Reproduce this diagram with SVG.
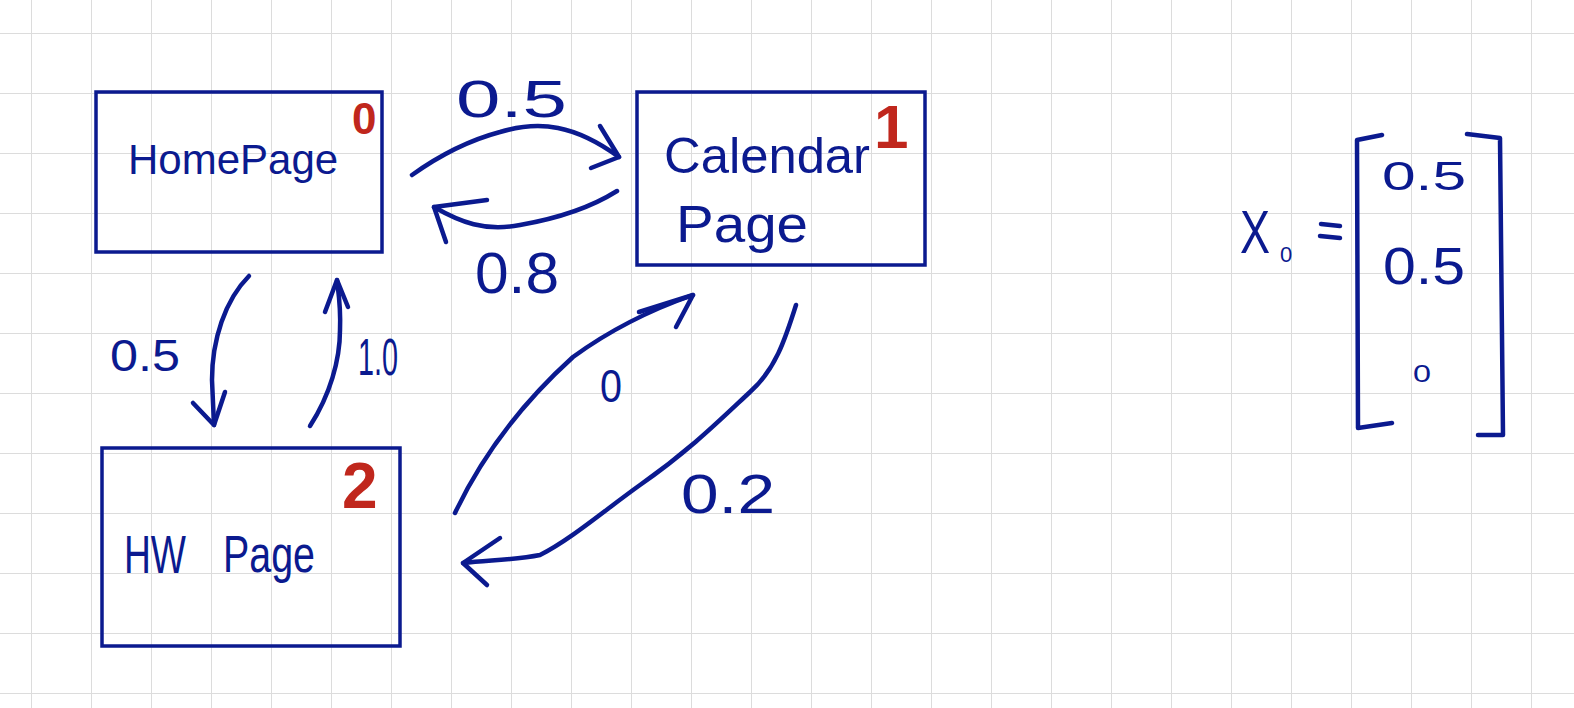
<svg xmlns="http://www.w3.org/2000/svg" width="1574" height="708" viewBox="0 0 1574 708">
  <style>
    .box { fill: none; stroke: #0b1a8f; stroke-width: 3.5; }
    .ink { fill: none; stroke: #0b1a8f; stroke-width: 4.5; stroke-linecap: round; stroke-linejoin: round; }
    .lbl { fill: #0b1a8f; font-family: "Liberation Sans", "DejaVu Sans", sans-serif; }
    .idx { fill: #c0271d; font-family: "Liberation Sans", "DejaVu Sans", sans-serif; font-weight: bold; }
  </style>
  <defs>
    <pattern id="grid" patternUnits="userSpaceOnUse" x="31" y="33" width="60" height="60">
      <path d="M0,0 H60 M0,0 V60" fill="none" stroke="#dcdcdc" stroke-width="2"/>
    </pattern>
  </defs>

  <!-- graph paper -->
  <rect width="1574" height="708" fill="#ffffff"/>
  <rect width="1574" height="708" fill="url(#grid)"/>

  <!-- state 0 -->
  <g id="node-0">
    <rect class="box" x="96" y="92" width="286" height="160"/>
    <text class="lbl" x="128" y="174" font-size="42">HomePage</text>
    <text class="idx" x="352" y="134" font-size="44">0</text>
  </g>

  <!-- state 1 -->
  <g id="node-1">
    <rect class="box" x="637" y="92" width="288" height="173"/>
    <text class="lbl" x="664" y="173" font-size="50" textLength="206" lengthAdjust="spacingAndGlyphs">Calendar</text>
    <text class="lbl" x="676" y="242" font-size="52" textLength="132" lengthAdjust="spacingAndGlyphs">Page</text>
    <text class="idx" x="874" y="148" font-size="62">1</text>
  </g>

  <!-- state 2 -->
  <g id="node-2">
    <rect class="box" x="102" y="448" width="298" height="198"/>
    <text class="lbl" x="124" y="573" font-size="54" textLength="62" lengthAdjust="spacingAndGlyphs">HW</text>
    <text class="lbl" x="223" y="572" font-size="52" textLength="92" lengthAdjust="spacingAndGlyphs">Page</text>
    <text class="idx" x="342" y="508" font-size="64">2</text>
  </g>

  <!-- transitions -->
  <g id="connectors">
    <!-- 0 -> 1 -->
    <path class="ink" d="M412,175 C440,155 470,140 500,132 C540,120 575,125 619,157"/>
    <path class="ink" d="M600,126 L619,157 L591,168"/>
    <text class="lbl" x="456" y="117" font-size="52" textLength="111" lengthAdjust="spacingAndGlyphs">0.5</text>

    <!-- 1 -> 0 -->
    <path class="ink" d="M617,191 C590,208 560,218 520,225 C485,232 460,222 434,207"/>
    <path class="ink" d="M487,200 L434,207 L446,242"/>
    <text class="lbl" x="475" y="293" font-size="58" textLength="84" lengthAdjust="spacingAndGlyphs">0.8</text>

    <!-- 0 -> 2 -->
    <path class="ink" d="M249,276 C225,300 212,340 212,380 L214,425"/>
    <path class="ink" d="M193,403 L214,425 L225,392"/>
    <text class="lbl" x="110" y="371" font-size="44" textLength="70" lengthAdjust="spacingAndGlyphs">0.5</text>

    <!-- 2 -> 0 -->
    <path class="ink" d="M310,426 C330,395 340,360 340,330 C341,305 338,290 337,280"/>
    <path class="ink" d="M325,312 L337,280 L348,307"/>
    <text class="lbl" x="358" y="375" font-size="52" textLength="40" lengthAdjust="spacingAndGlyphs">1.0</text>

    <!-- 2 -> 1 -->
    <path class="ink" d="M455,513 C480,460 520,405 573,357 C610,330 650,310 693,295"/>
    <path class="ink" d="M639,312 L693,295 L676,327"/>
    <text class="lbl" x="600" y="402" font-size="46" textLength="22" lengthAdjust="spacingAndGlyphs">0</text>

    <!-- 1 -> 2 -->
    <path class="ink" d="M796,305 C785,340 775,370 750,392 C720,420 690,450 640,485 C605,510 570,540 540,555 C515,560 490,560 463,563"/>
    <path class="ink" d="M500,538 L463,563 L487,585"/>
    <text class="lbl" x="681" y="513" font-size="56" textLength="94" lengthAdjust="spacingAndGlyphs">0.2</text>
  </g>

  <!-- initial distribution vector -->
  <g id="x0-vector">
    <text class="lbl" x="1240" y="253" font-size="62" textLength="30" lengthAdjust="spacingAndGlyphs">X</text>
    <text class="lbl" x="1280" y="262" font-size="22">0</text>
    <path class="ink" d="M1321,224 L1340,226 M1320,236 L1340,238"/>
    <path class="ink" d="M1382,135 L1357,140 L1358,428 L1392,423"/>
    <path class="ink" d="M1467,134 L1500,138 L1503,435 L1478,435"/>
    <text class="lbl" x="1382" y="190" font-size="40" textLength="84" lengthAdjust="spacingAndGlyphs">0.5</text>
    <text class="lbl" x="1383" y="284" font-size="52" textLength="82" lengthAdjust="spacingAndGlyphs">0.5</text>
    <text class="lbl" x="1413" y="382" font-size="24" textLength="18" lengthAdjust="spacingAndGlyphs">0</text>
  </g>
</svg>
